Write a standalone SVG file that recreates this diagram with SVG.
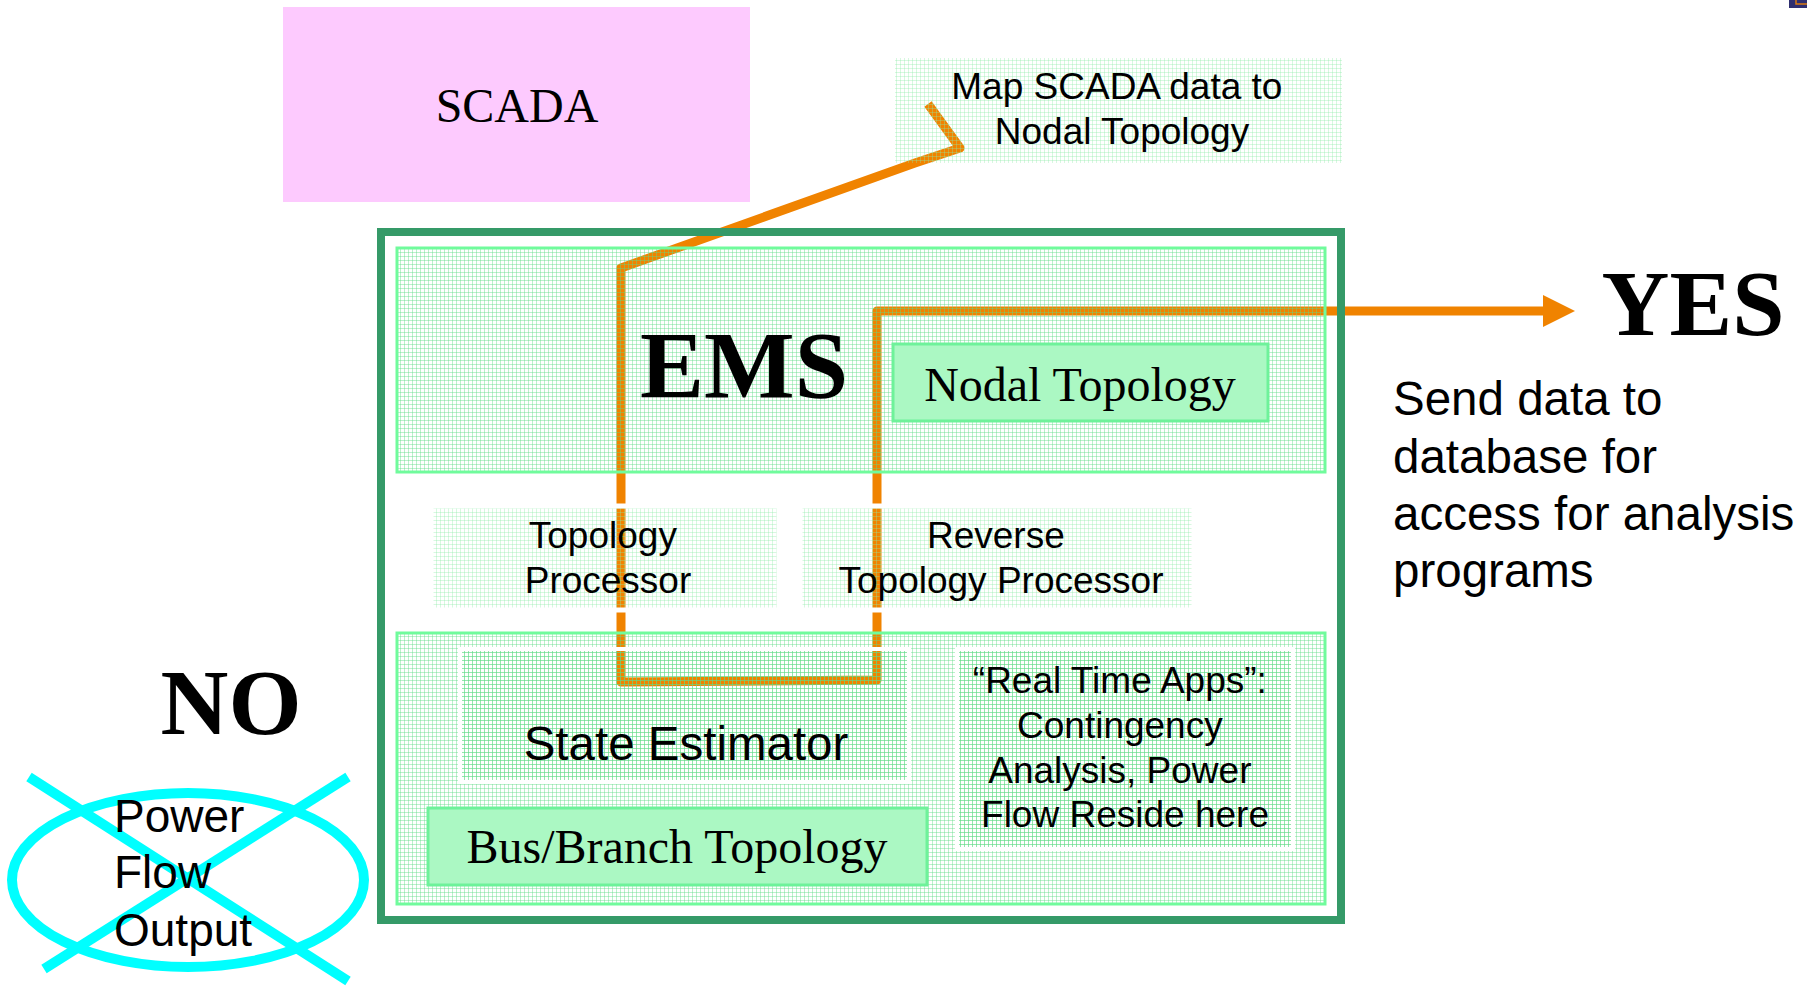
<svg xmlns="http://www.w3.org/2000/svg" width="1807" height="987" viewBox="0 0 1807 987">
  <defs>
    <!-- fine mesh used by the pale green panels -->
    <pattern id="mesh" width="4" height="4" patternUnits="userSpaceOnUse">
      <path d="M0 0.5H4M0.5 0V4" stroke="#5fdc86" stroke-opacity="0.42" stroke-width="1"/>
    </pattern>
    <pattern id="meshFaint" width="4" height="4" patternUnits="userSpaceOnUse">
      <path d="M0 0.5H4M0.5 0V4" stroke="#8ceaa6" stroke-opacity="0.35" stroke-width="1"/>
    </pattern>
    <marker id="arrowHead" viewBox="0 0 32 32" refX="0" refY="16" markerWidth="32" markerHeight="32" markerUnits="userSpaceOnUse" orient="auto">
      <path d="M0 0L32 16L0 32Z" fill="#f08300"/>
    </marker>
  </defs>
  <style>
    .serif { font-family: "Liberation Serif", "Times New Roman", serif; fill: #000; }
    .sans { font-family: "Liberation Sans", Arial, sans-serif; fill: #000; }
    .flow { fill: none; stroke: #f08300; stroke-width: 9; stroke-linejoin: round; stroke-linecap: butt; }
    .panel { fill: url(#mesh); stroke: #70fb9c; stroke-width: 3; }
    .label { fill: url(#meshFaint); stroke: #ffffff; stroke-width: 5; }
    .inner { fill: url(#mesh); stroke: #ffffff; stroke-width: 4; }
    .tag { fill: #abf8c3; stroke: #6ef29a; stroke-width: 3; }
    .cross { fill: none; stroke: #00ffff; stroke-width: 10; }
  </style>

  <rect width="1807" height="987" fill="#ffffff"/>

  <!-- slide corner ornament -->
  <g id="corner">
    <rect x="1789" y="0" width="18" height="8" fill="#2f2f70"/>
    <path d="M1796 0V4H1807" fill="none" stroke="#d97a10" stroke-width="1.5"/>
  </g>

  <g id="scada">
    <rect x="283" y="7" width="467" height="195" fill="#fdcafe"/>
    <text class="serif" x="517" y="122" font-size="48" text-anchor="middle">SCADA</text>
  </g>

  <!-- data flow connectors -->
  <g id="connectors">
    <path class="flow" d="M928 104L960 148L915 163L621 268V682L877 680V311H1543" marker-end="url(#arrowHead)"/>
  </g>

  <g id="map-label">
    <rect x="895" y="58" width="447" height="105" fill="url(#meshFaint)"/>
    <text class="sans" font-size="37" text-anchor="middle">
      <tspan x="1122" y="99">Map SCADA data to</tspan>
      <tspan x="1122" y="144">Nodal Topology</tspan>
    </text>
  </g>

  <g id="ems">
    <rect x="381" y="232" width="960" height="688" fill="none" stroke="#359a68" stroke-width="8"/>
  </g>

  <g id="ems-upper">
    <rect class="panel" x="397" y="248" width="928" height="224"/>
    <text class="serif" x="744" y="398" font-size="96" font-weight="bold" text-anchor="middle">EMS</text>
  </g>

  <g id="nodal-topology">
    <rect class="tag" x="893" y="344" width="375" height="77"/>
    <text class="serif" x="1080" y="401" font-size="48" text-anchor="middle">Nodal Topology</text>
  </g>

  <g id="topology-processor">
    <rect class="label" x="431" y="506" width="348" height="104"/>
    <text class="sans" font-size="37" text-anchor="middle">
      <tspan x="608" y="548">Topology</tspan>
      <tspan x="608" y="593">Processor</tspan>
    </text>
  </g>

  <g id="reverse-topology-processor">
    <rect class="label" x="800" y="506" width="394" height="104"/>
    <text class="sans" font-size="37" text-anchor="middle">
      <tspan x="1001" y="548">Reverse</tspan>
      <tspan x="1001" y="593">Topology Processor</tspan>
    </text>
  </g>

  <g id="ems-lower">
    <rect class="panel" x="397" y="633" width="928" height="271"/>
  </g>

  <g id="state-estimator">
    <rect class="inner" x="460" y="649" width="449" height="133"/>
    <text class="sans" x="686" y="760" font-size="47.5" text-anchor="middle">State Estimator</text>
  </g>

  <g id="bus-branch-topology">
    <rect class="tag" x="428" y="808" width="499" height="77"/>
    <text class="serif" x="677" y="863" font-size="48" text-anchor="middle">Bus/Branch Topology</text>
  </g>

  <g id="real-time-apps">
    <rect class="inner" x="957" y="649" width="336" height="200"/>
    <text class="sans" font-size="37" text-anchor="middle">
      <tspan x="1125" y="693">“Real Time Apps”:</tspan>
      <tspan x="1125" y="738">Contingency</tspan>
      <tspan x="1125" y="783">Analysis, Power</tspan>
      <tspan x="1125" y="827">Flow Reside here</tspan>
    </text>
  </g>

  <g id="yes">
    <text class="serif" x="1693" y="335" font-size="94" font-weight="bold" text-anchor="middle">YES</text>
    <text class="sans" font-size="47.5">
      <tspan x="1393" y="415">Send data to</tspan>
      <tspan x="1393" y="473">database for</tspan>
      <tspan x="1393" y="530">access for analysis</tspan>
      <tspan x="1393" y="587">programs</tspan>
    </text>
  </g>

  <g id="no">
    <text class="serif" x="231" y="734" font-size="94" font-weight="bold" text-anchor="middle">NO</text>
  </g>

  <g id="power-flow-output">
    <ellipse class="cross" cx="188" cy="880" rx="176" ry="87"/>
    <line class="cross" x1="29" y1="777" x2="348" y2="981"/>
    <line class="cross" x1="348" y1="777" x2="44" y2="969"/>
    <text class="sans" font-size="46">
      <tspan x="114" y="832">Power</tspan>
      <tspan x="114" y="888">Flow</tspan>
      <tspan x="114" y="946">Output</tspan>
    </text>
  </g>
</svg>
